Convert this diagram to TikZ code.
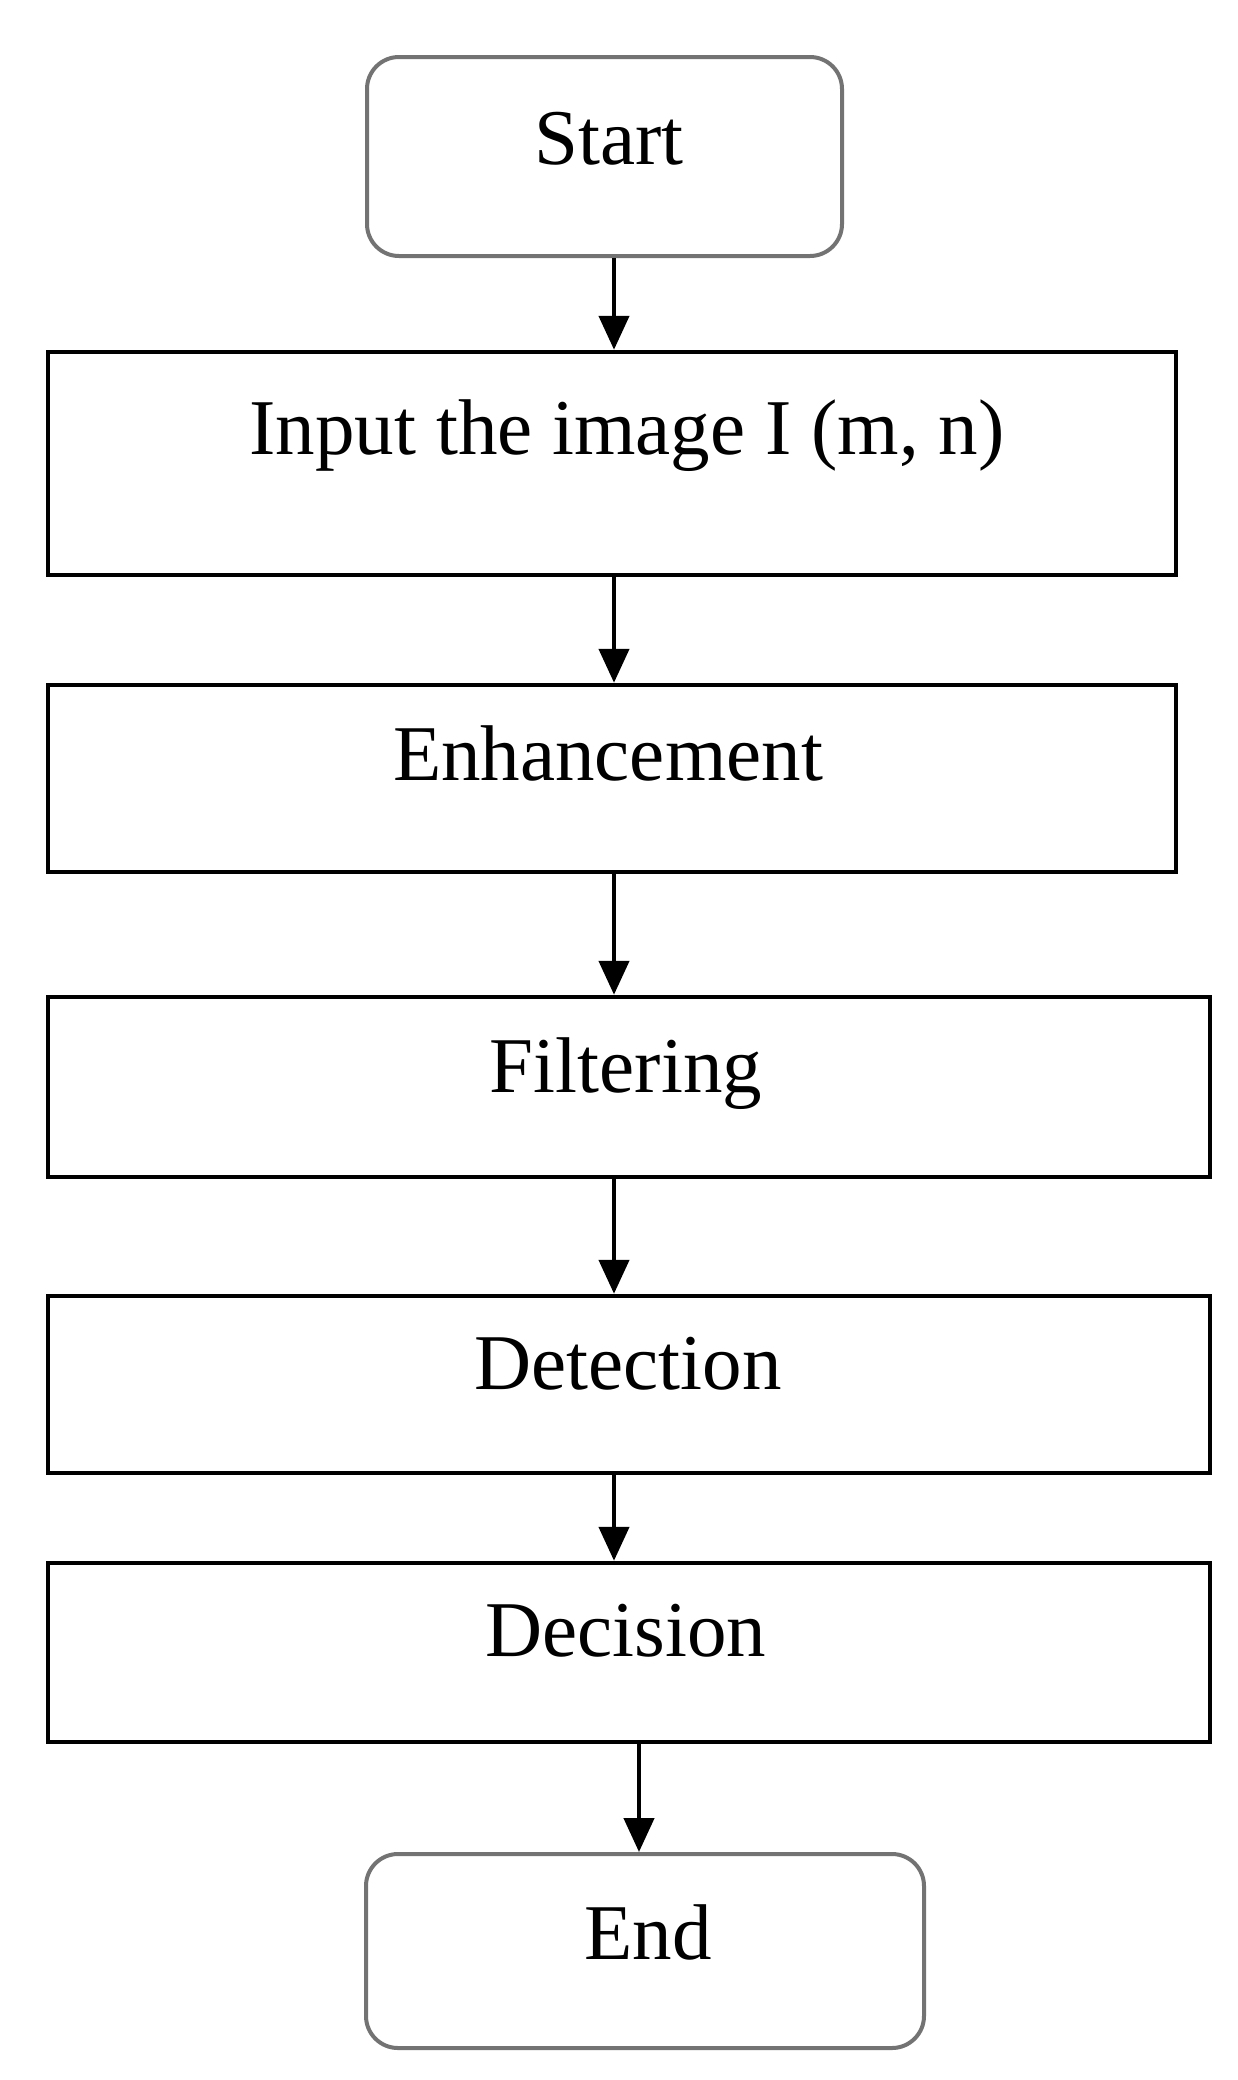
\documentclass[tikz,border=0pt]{standalone}
\usepackage{fontspec}
\setmainfont{Liberation Serif}
\usetikzlibrary{arrows.meta}
\begin{document}
\begin{tikzpicture}[x=1pt,y=-1pt,
  procbox/.style={draw=black,line width=4.5pt,rectangle,inner sep=0pt},
  termbox/.style={draw=black!55,line width=4pt,rectangle,rounded corners=32pt,inner sep=0pt},
  lbl/.style={anchor=base,inner sep=0pt,font=\fontsize{79}{90}\selectfont},
  arr/.style={line width=4.5pt,-{Triangle[width=30pt,length=34pt]}}]
\useasboundingbox (0,0) rectangle (1237,2080);
\fill[white] (0,0) rectangle (1237,2080);
% boxes
\node[termbox,minimum width=475pt,minimum height=199pt] (start) at (604.5,156.5) {};
\node[procbox,minimum width=1128pt,minimum height=223pt] (input) at (612,463.5) {};
\node[procbox,minimum width=1128pt,minimum height=187pt] (enh) at (612,778.5) {};
\node[procbox,minimum width=1162pt,minimum height=180pt] (filt) at (629,1087) {};
\node[procbox,minimum width=1162pt,minimum height=177pt] (det) at (629,1384.5) {};
\node[procbox,minimum width=1162pt,minimum height=179pt] (dec) at (629,1652.5) {};
\node[termbox,minimum width=558pt,minimum height=194pt] (end) at (645,1951) {};
% labels
\node[lbl] (tstart) at (609,164) {Start};
\node[lbl] (tinput) at (627,454) {Input the image I (m, n)};
\node[lbl] (tenh) at (608,780) {Enhancement};
\node[lbl] (tfilt) at (626,1092) {Filtering};
\node[lbl] (tdet) at (628,1389) {Detection};
\node[lbl] (tdec) at (626,1656) {Decision};
\node[lbl] (tend) at (648,1959) {End};
% connectors
\coordinate (ax) at (614,0);
\coordinate (bx) at (639,0);
\draw[arr] (ax |- start.south) -- (ax |- input.north);
\draw[arr] (ax |- input.south) -- (ax |- enh.north);
\draw[arr] (ax |- enh.south) -- (ax |- filt.north);
\draw[arr] (ax |- filt.south) -- (ax |- det.north);
\draw[arr] (ax |- det.south) -- (ax |- dec.north);
\draw[arr] (bx |- dec.south) -- (bx |- end.north);
\end{tikzpicture}
\end{document}
